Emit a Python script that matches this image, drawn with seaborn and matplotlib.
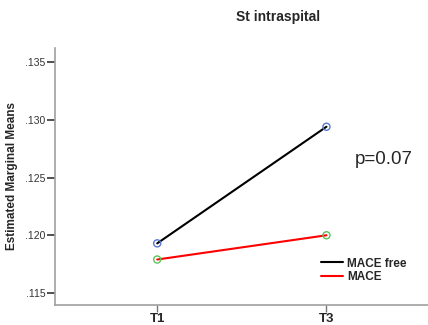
import matplotlib
matplotlib.use("Agg")
import matplotlib.pyplot as plt
import seaborn as sns
import pandas as pd

# Estimated marginal means of St intraspital by time point and group
timepoints = ["T1", "T3"]
mace_free = [0.1193, 0.1294]
mace = [0.1179, 0.1200]
groups = ["MACE free", "MACE"]
y_ticks = [0.115, 0.120, 0.125, 0.130, 0.135]
y_tick_labels = [".115", ".120", ".125", ".130", ".135"]

df = pd.DataFrame({
    "time": timepoints * 2,
    "x": [0, 1] * 2,
    "mean": mace_free + mace,
    "group": [groups[0]] * 2 + [groups[1]] * 2,
})

line_colors = {"MACE free": "#000000", "MACE": "#ff0000"}
marker_colors = {"MACE free": "#5a78d0", "MACE": "#5ac35a"}

sns.set_style("white")
plt.rcParams["font.family"] = ["Liberation Sans", "DejaVu Sans"]

fig = plt.figure(figsize=(4.28, 3.25), dpi=100)
ax = fig.add_axes([55 / 428, 20 / 325, 1 - 55 / 428, 1 - (48 + 20) / 325])

sns.lineplot(data=df, x="x", y="mean", hue="group", palette=line_colors,
             linewidth=1.5, ax=ax, legend=True)
for g in groups:
    sub = df[df["group"] == g]
    ax.scatter(sub["x"], sub["mean"], s=26, facecolors="none",
               edgecolors=marker_colors[g], linewidths=1.0, zorder=3)

ax.set_xlim(-0.604, 1.6)
ax.set_ylim(0.11396, 0.13622)
ax.set_xticks([0, 1])
ax.set_xticklabels(timepoints, fontsize=9.5, fontweight="bold")
ax.set_yticks(y_ticks)
ax.set_yticklabels(y_tick_labels, fontsize=7.5, color="#333333")
ax.set_xlabel("")
ax.set_ylabel("Estimated Marginal Means", fontsize=8.5, fontweight="bold")
ax.yaxis.set_label_coords(-37 / 373, 0.5)

for side in ("top", "right"):
    ax.spines[side].set_visible(False)
for side in ("left", "bottom"):
    ax.spines[side].set_color("#a0a0a0")
    ax.spines[side].set_linewidth(1.2)
ax.tick_params(axis="y", left=True, direction="out", length=6, width=1.2,
               color="#333333", pad=1)
ax.tick_params(axis="x", bottom=True, direction="out", length=5, width=1.0,
               color="#777777", pad=1)

leg = ax.legend(loc="upper left", bbox_to_anchor=(0.70, 0.203),
                frameon=False, fontsize=8.5, handlelength=1.9, handletextpad=0.3,
                labelspacing=0.1, borderaxespad=0)
for t in leg.get_texts():
    t.set_fontweight("bold")

fig.text(278 / 428, 1 - 17 / 325, "St intraspital", ha="center", va="center",
         fontsize=10, fontweight="bold")
ax.text(384 / 428, 1 - 160 / 325, "p=0.07", transform=fig.transFigure,
        ha="center", va="center", fontsize=13.5)

fig.savefig("out.png", dpi=100)
